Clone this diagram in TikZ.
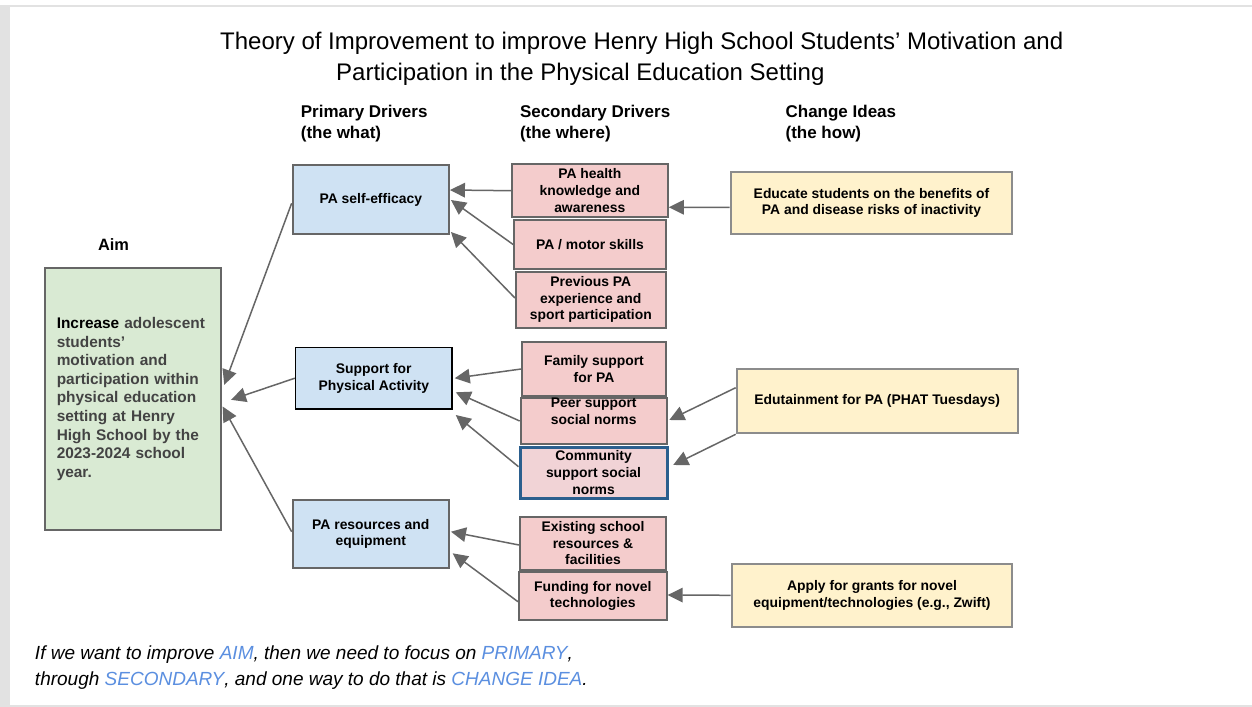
\documentclass[tikz,border=0pt]{standalone}
\usepackage{fontspec}
\setmainfont{Liberation Sans}
\usetikzlibrary{arrows.meta}

\definecolor{primfill}{HTML}{CFE2F3}
\definecolor{secfill}{HTML}{F4CCCC}
\definecolor{commfill}{HTML}{F1D3D6}
\definecolor{changefill}{HTML}{FFF2CC}
\definecolor{aimfill}{HTML}{D9EAD3}
\definecolor{boxgrey}{HTML}{666666}
\definecolor{changegrey}{HTML}{8C8C8C}
\definecolor{commblue}{HTML}{2B5F8E}
\definecolor{aimtext}{HTML}{434343}
\definecolor{hintblue}{HTML}{5B8FE0}
\definecolor{framegrey}{HTML}{E2E2E2}

\newcommand{\boxfont}{\fontsize{13.9bp}{16.7bp}\selectfont\bfseries}
\newcommand{\liftup}[2]{\raisebox{#1}[\height][\depth]{\begin{tabular}{@{}c@{}}#2\end{tabular}}}

\tikzset{
  >={Triangle[length=15bp,width=14.5bp]},
  box/.style={draw=boxgrey, line width=2bp, align=center, inner sep=0pt, font=\boxfont, text=black},
  primary/.style={box, fill=primfill},
  secondary/.style={box, fill=secfill},
  change/.style={box, fill=changefill, draw=changegrey},
  header/.style={anchor=west, align=left, inner sep=0pt, font=\fontsize{17bp}{21bp}\selectfont\bfseries},
}

\begin{document}
\begin{tikzpicture}[x=1bp,y=-1bp]
    \useasboundingbox (0,0) rectangle (1252,707);
    \fill[framegrey] (0,5) rectangle (1252,707);
    \fill[white] (10,7) rectangle (1252,705);

    \node[anchor=west, align=left, inner sep=0pt, font=\fontsize{24bp}{31bp}\selectfont] (title) at (220,58.5)
      {Theory of Improvement to improve Henry High School Students’ Motivation and\\
       \hspace*{116bp}Participation in the Physical Education Setting};

    \node[header] (primhead) at (300.7,124) {Primary Drivers\\(the what)};
    \node[header] (sechead) at (519.8,124) {Secondary Drivers\\(the where)};
    \node[header] (changehead) at (785.4,124) {Change Ideas\\(the how)};
    \node[inner sep=0pt, font=\fontsize{16.4bp}{20bp}\selectfont\bfseries] (aimhead) at (113.5,245) {Aim};

    % aim
    \node[box, fill=aimfill, align=left, text width=152bp, minimum width=175.7bp, minimum height=261.6bp,
      font=\fontsize{15.4bp}{18.6bp}\selectfont\bfseries, text=aimtext] (aim) at (132.8,399)
      {\textcolor{black}{Increase} adolescent\\students’\\motivation and\\participation within\\physical education\\setting at Henry\\High School by the\\2023-2024 school\\year.};

    % primary drivers
    \node[primary, minimum width=156.3bp, minimum height=69bp] (pse) at (370.8,199.5) {PA self-efficacy};
    \node[primary, draw=black, line width=1.6bp, minimum width=156.3bp, minimum height=61.7bp] (support) at (373.8,378.2) {Support for\\Physical Activity};
    \node[primary, minimum width=156.3bp, minimum height=68bp] (pares) at (370.8,534) {PA resources and\\equipment};

    % secondary drivers
    \node[secondary, minimum width=156bp, minimum height=53.3bp] (health) at (589.8,190.7) {PA health\\knowledge and\\awareness};
    \node[secondary, minimum width=151.7bp, minimum height=49bp] (motor) at (590,244.5) {PA / motor skills};
    \node[secondary, minimum width=149.7bp, minimum height=56bp] (prev) at (590.8,299.7) {Previous PA\\experience and\\sport participation};
    \node[secondary, minimum width=143.7bp, minimum height=54bp] (family) at (594,369) {Family support\\for PA};
    \node[secondary, minimum width=146bp, minimum height=46.7bp] (peer) at (593.7,421) {\liftup{8bp}{Peer support\\social norms}};
    \node[secondary, fill=commfill, draw=commblue, line width=3bp, minimum width=147bp, minimum height=51bp] (comm) at (593.5,472.5) {Community\\support social\\norms};
    \node[secondary, minimum width=146bp, minimum height=53.3bp] (exist) at (593,543.3) {Existing school\\resources \&\\facilities};
    \node[secondary, minimum width=147.7bp, minimum height=48.3bp] (fund) at (592.8,595.8) {Funding for novel\\technologies};

    % change ideas
    \node[change, minimum width=281.7bp, minimum height=62.3bp] (educate) at (871.5,202.8) {Educate students on the benefits of\\PA and disease risks of inactivity};
    \node[change, minimum width=281bp, minimum height=64bp] (edutain) at (877.2,401.3) {Edutainment for PA (PHAT Tuesdays)};
    \node[change, minimum width=280.7bp, minimum height=62.7bp] (apply) at (872,595.3) {Apply for grants for novel\\equipment/technologies (e.g., Zwift)};

    \begin{scope}[->, draw=boxgrey, line width=1.5bp]
      \draw (health.west) -- ([yshift=9.5bp]pse.east);
      \draw (motor.west) -- ([xshift=1bp,yshift=-0.5bp]pse.east);
      \draw ([yshift=1.7bp]prev.west) -- ([xshift=1bp,yshift=-32.5bp]pse.east);
      \draw ([yshift=-3.8bp]pse.west) -- ([xshift=2.6bp,yshift=14.2bp]aim.east);
      \draw (support.west) -- ([xshift=9.3bp,yshift=-0.8bp]aim.east);
      \draw ([yshift=2.3bp]pares.west) -- ([xshift=1bp,yshift=-7.5bp]aim.east);
      \draw (family.west) -- ([xshift=2bp]support.east);
      \draw (peer.west) -- ([xshift=3bp,yshift=-14.1bp]support.east);
      \draw ([yshift=5.8bp]comm.west) -- ([xshift=3bp,yshift=-36.8bp]support.east);
      \draw ([yshift=-1.7bp]exist.west) -- ([xshift=1bp,yshift=2.3bp]pares.east);
      \draw ([yshift=-5.9bp]fund.west) -- ([xshift=2.7bp,yshift=-19.3bp]pares.east);
      \draw ([yshift=-4.5bp]educate.west) -- ([yshift=-16.6bp]health.east);
      \draw ([yshift=13.6bp]edutain.west) -- ([xshift=1.6bp,yshift=1bp]peer.east);
      \draw (edutain.south west) -- ([xshift=4.7bp,yshift=7.5bp]comm.east);
      \draw (apply.west) -- ([yshift=0.8bp]fund.east);
    \end{scope}

    \node[anchor=west, align=left, inner sep=0pt, font=\fontsize{19bp}{26bp}\selectfont\itshape] (hint) at (34.8,668)
      {If we want to improve \textcolor{hintblue}{AIM}, then we need to focus on \textcolor{hintblue}{PRIMARY},\\
       through \textcolor{hintblue}{SECONDARY}, and one way to do that is \textcolor{hintblue}{CHANGE IDEA}.};
  \end{tikzpicture}
\end{document}
